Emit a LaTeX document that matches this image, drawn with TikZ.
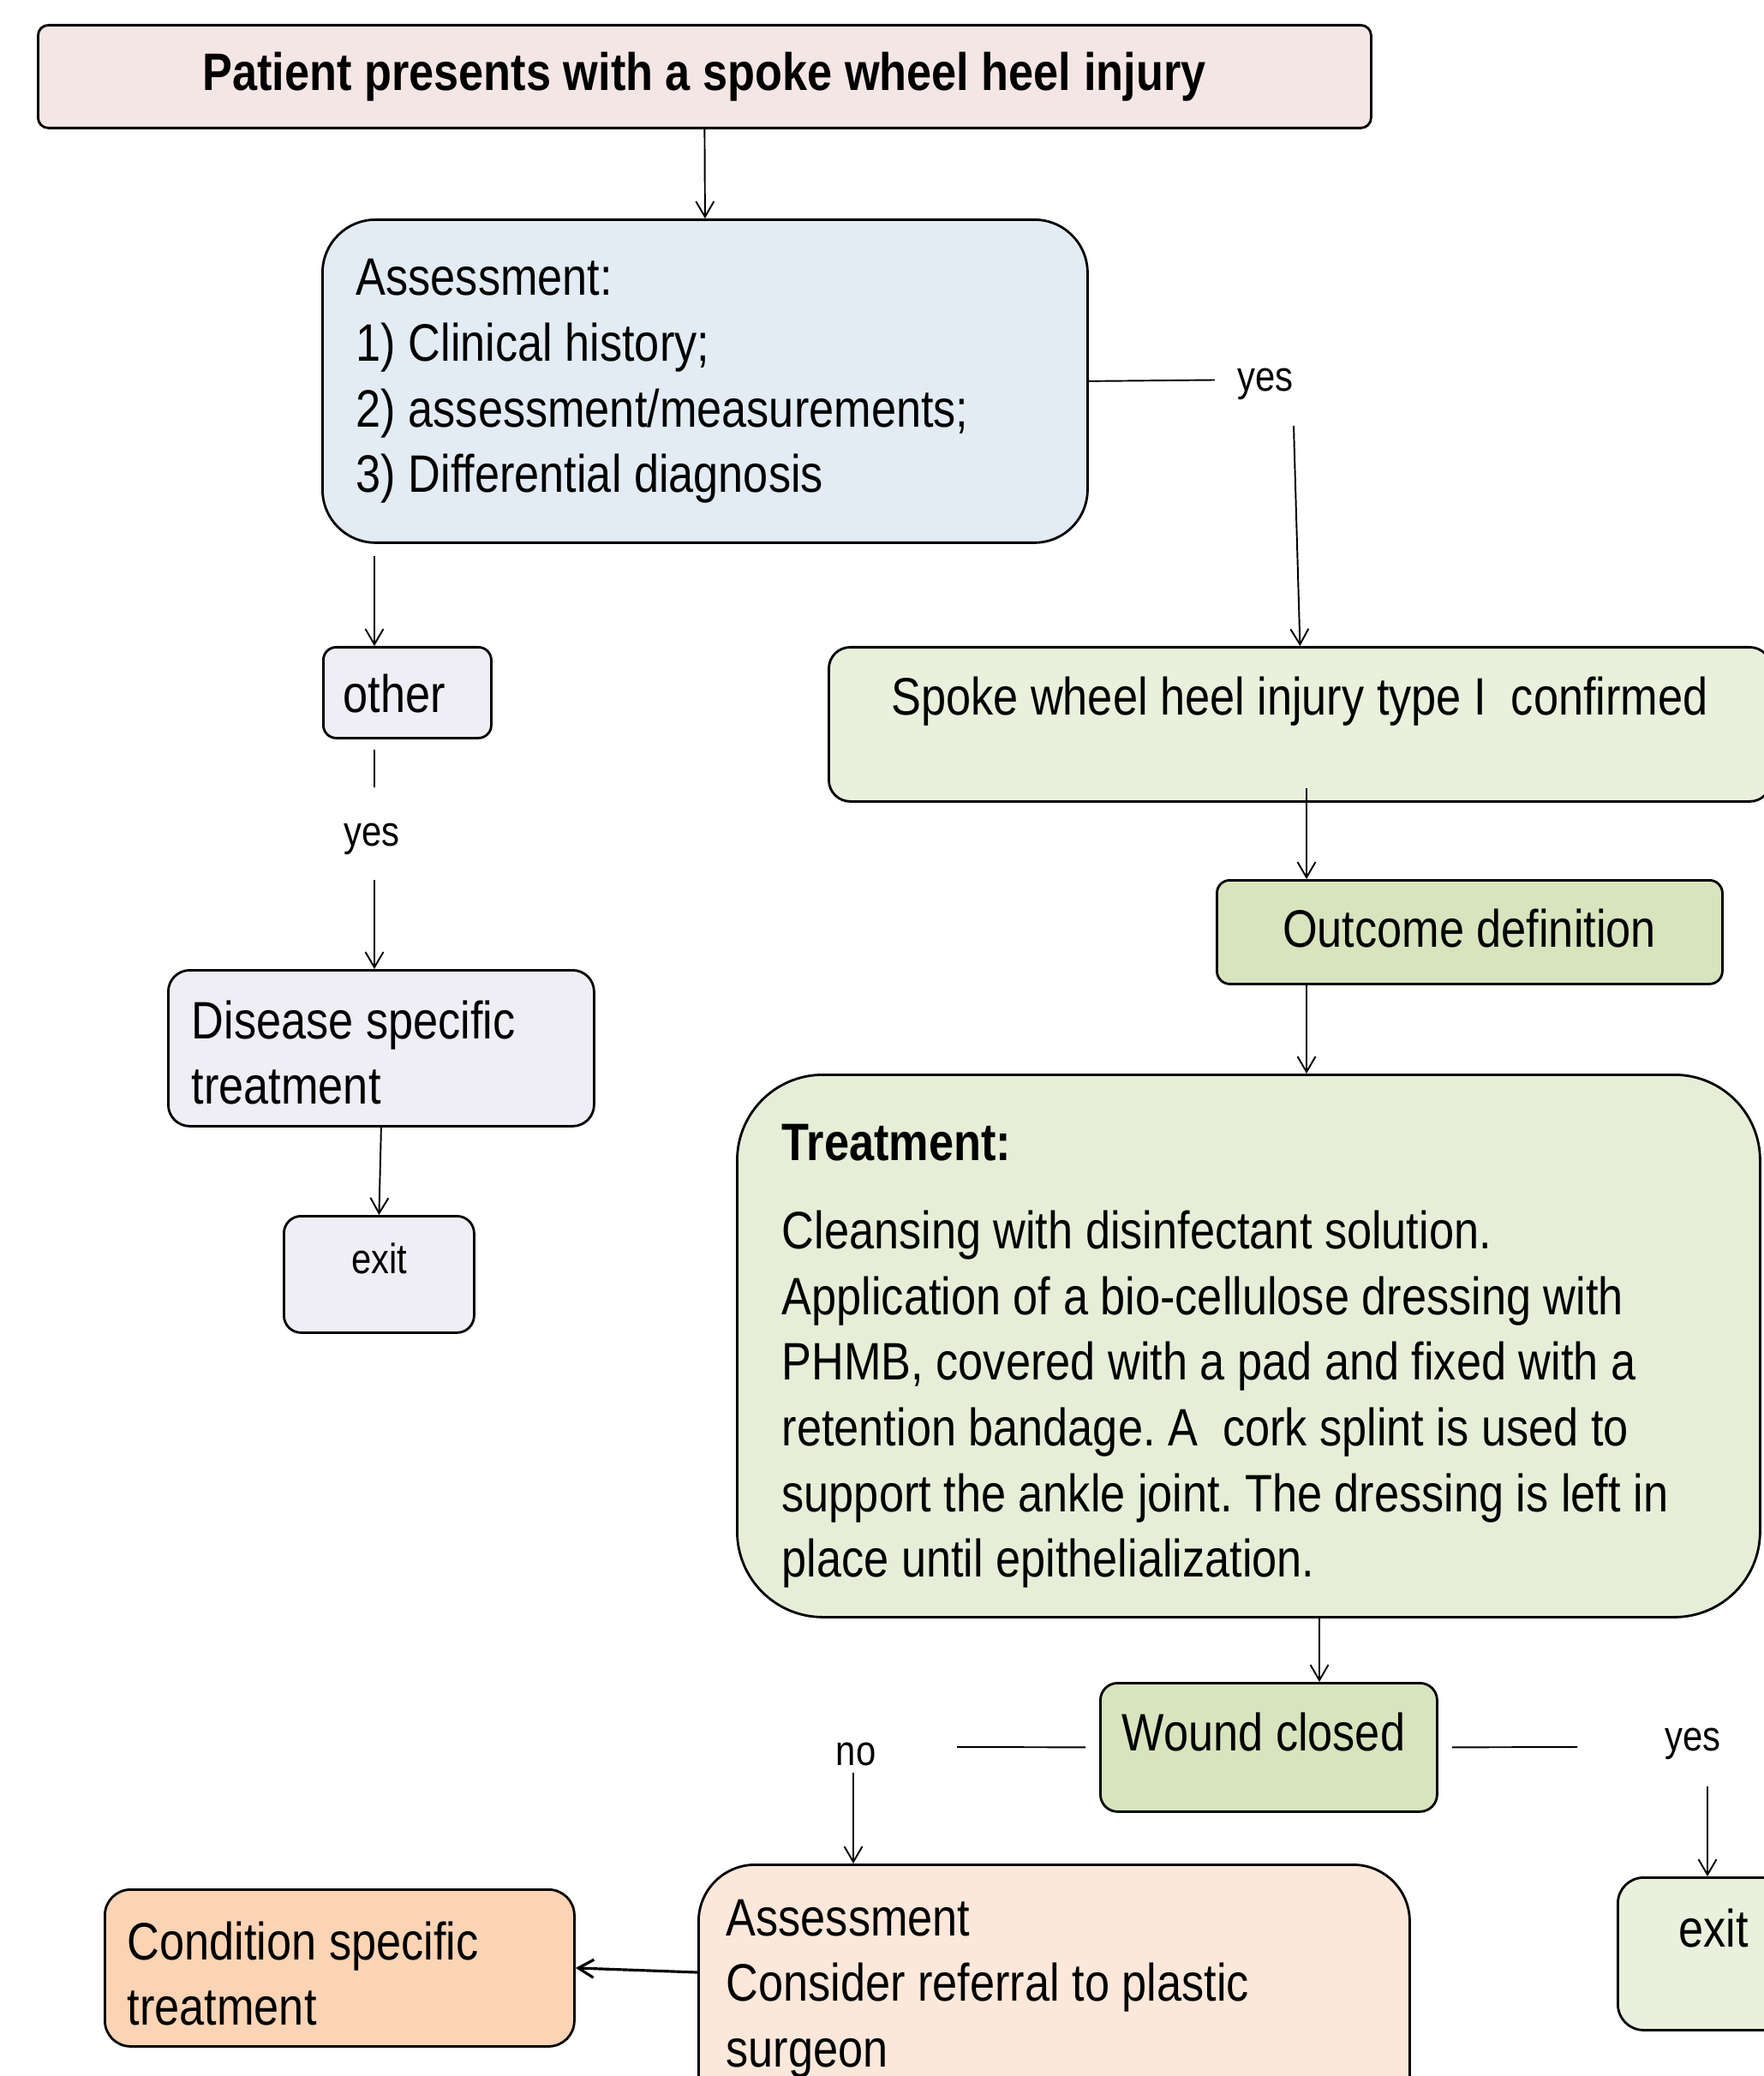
\documentclass[tikz,border=0pt]{standalone}
\usepackage{fontspec}
\setmainfont{Liberation Sans}[FakeStretch=0.85]
\usetikzlibrary{arrows.meta,positioning}
\definecolor{toppink}{HTML}{F5E6E6}
\definecolor{assessblue}{HTML}{E3ECF4}
\definecolor{otherlilac}{HTML}{F0EEF5}
\definecolor{palegreen}{HTML}{E9F0DC}
\definecolor{midgreen}{HTML}{D7E4BD}
\definecolor{treatgreen}{HTML}{E6EED8}
\definecolor{palepeach}{HTML}{FCE8DA}
\definecolor{peach}{HTML}{FAD4B4}
\tikzset{>={Straight Barb[length=0.18cm,width=0.21cm]}}
\tikzset{
  flowbox/.style={draw=black, line width=0.8pt, anchor=north west, inner sep=0pt},
  bigtext/.style={font=\fontsize{17.5}{21.8}\selectfont\frenchspacing, inner sep=0pt},
  titletext/.style={font=\fontsize{17.5}{21.8}\selectfont\bfseries, inner sep=0pt, anchor=base},
  blocktext/.style={bigtext, align=flush left, anchor=base west},
  smalltext/.style={font=\fontsize{14}{17}\selectfont, inner sep=0pt, anchor=base},
  link/.style={line width=0.55pt},
}
\begin{document}
\begin{tikzpicture}
  \useasboundingbox (0,0) rectangle (20.58,-24.23);
  % boxes
  \node[flowbox, fill=toppink, rounded corners=0.12cm, minimum width=15.56cm, minimum height=1.20cm] (top) at (0.43,-0.28) {};
  \node[flowbox, fill=assessblue, rounded corners=0.62cm, minimum width=8.93cm, minimum height=3.77cm] (assess) at (3.75,-2.55) {};
  \node[flowbox, fill=otherlilac, rounded corners=0.15cm, minimum width=1.96cm, minimum height=1.06cm] (other) at (3.76,-7.54) {};
  \node[flowbox, fill=otherlilac, rounded corners=0.25cm, minimum width=4.97cm, minimum height=1.82cm] (disease) at (1.95,-11.31) {};
  \node[flowbox, fill=otherlilac, rounded corners=0.2cm, minimum width=2.22cm, minimum height=1.36cm] (exitL) at (3.30,-14.18) {};
  \node[flowbox, fill=palegreen, rounded corners=0.25cm, minimum width=11.0cm, minimum height=1.80cm] (spoke) at (9.66,-7.54) {};
  \node[flowbox, fill=midgreen, rounded corners=0.15cm, minimum width=5.90cm, minimum height=1.21cm] (outcome) at (14.19,-10.26) {};
  \node[flowbox, fill=treatgreen, rounded corners=1.0cm, minimum width=11.94cm, minimum height=6.33cm] (treat) at (8.59,-12.53) {};
  \node[flowbox, fill=midgreen, rounded corners=0.2cm, minimum width=3.93cm, minimum height=1.50cm] (wound) at (12.83,-19.63) {};
  \node[flowbox, fill=palepeach, rounded corners=0.66cm, minimum width=8.30cm, minimum height=3.2cm] (assessB) at (8.14,-21.75) {};
  \node[flowbox, fill=peach, rounded corners=0.3cm, minimum width=5.48cm, minimum height=1.83cm] (cond) at (1.21,-22.04) {};
  \node[flowbox, fill=palegreen, rounded corners=0.3cm, minimum width=2.6cm, minimum height=1.78cm] (exitR) at (18.87,-21.90) {};
  % texts
  \node[titletext] (topT) at (8.22,-1.06) {Patient presents with a spoke wheel heel injury};
  \node[blocktext, text width=8cm] (assessT) at (4.15,-3.45) {Assessment:\\1) Clinical history;\\2) assessment/measurements;\\3) Differential diagnosis};
  \node[bigtext, anchor=base west] (otherT) at (4.00,-8.31) {other};
  \node[blocktext, text width=4.5cm] (diseaseT) at (2.23,-12.12) {Disease specific\\treatment};
  \node[smalltext] (exitLT) at (4.43,-14.86) {exit};
  \node[bigtext, anchor=base] (spokeT) at (15.17,-8.34) {Spoke wheel heel injury type I\ \ confirmed};
  \node[bigtext, anchor=base] (outcomeT) at (17.15,-11.05) {Outcome definition};
  \node[blocktext, text width=11cm] (treatT) at (9.12,-13.54) {\textbf{Treatment:}\\[0.27cm]Cleansing with disinfectant solution.\\Application of a bio-cellulose dressing with\\PHMB, covered with a pad and fixed with a\\retention bandage. A\ \ cork splint is used to\\support the ankle joint. The dressing is left in\\place until epithelialization.};
  \node[bigtext, anchor=base] (woundT) at (14.75,-20.43) {Wound closed};
  \node[blocktext, text width=7.5cm] (assessBT) at (8.47,-22.59) {Assessment\\Consider referral to plastic\\surgeon};
  \node[blocktext, text width=5cm] (condT) at (1.48,-22.87) {Condition specific\\treatment};
  \node[bigtext, anchor=base] (exitRT) at (20.00,-22.72) {exit};
  % labels
  \node[smalltext] (yes1) at (14.77,-4.57) {yes};
  \node[smalltext] (yes2) at (4.34,-9.87) {yes};
  \node[smalltext] (no) at (9.99,-20.60) {no};
  \node[smalltext] (yes3) at (19.76,-20.43) {yes};
  % connectors
  \coordinate (c1) at (14.18,-4.435);
  \coordinate (c2) at (15.10,-4.97);
  \coordinate (c3) at (4.37,-6.49);
  \coordinate (c4) at (4.37,-8.75);
  \coordinate (c5) at (4.37,-9.19);
  \coordinate (c6) at (4.37,-10.27);
  \coordinate (c7) at (15.25,-9.20);
  \coordinate (c8) at (15.40,-18.86);
  \coordinate (c9) at (11.17,-20.39);
  \coordinate (c10) at (18.41,-20.39);
  \coordinate (c11) at (9.96,-20.69);
  \coordinate (c12) at (19.93,-20.85);
  \coordinate (c13) at (8.14,-23.02);
  \draw[link,->] (top.south) -- (assess.north);
  \draw[link] (assess.east) -- (c1);
  \draw[link,->] (c2) -- (spoke.north);
  \draw[link,->] (c3) -- (c3 |- other.north);
  \draw[link] (c4) -- (c5);
  \draw[link,->] (c6) -- (c6 |- disease.north);
  \draw[link,->] (disease.south) -- (exitL.north);
  \draw[link,->] (c7) -- (c7 |- outcome.north);
  \draw[link,->] (outcome.south -| c7) -- (c7 |- treat.north);
  \draw[link,->] (c8) -- (c8 |- wound.north);
  \draw[link, shorten <=0.16cm] (wound.west) -- (c9);
  \draw[link, shorten <=0.16cm] (wound.east) -- (c10);
  \draw[link,->] (c11) -- (c11 |- assessB.north);
  \draw[link,->] (c12) -- (c12 |- exitR.north);
  \draw[line width=0.9pt,->] (c13) -- (cond.east);
\end{tikzpicture}
\end{document}
